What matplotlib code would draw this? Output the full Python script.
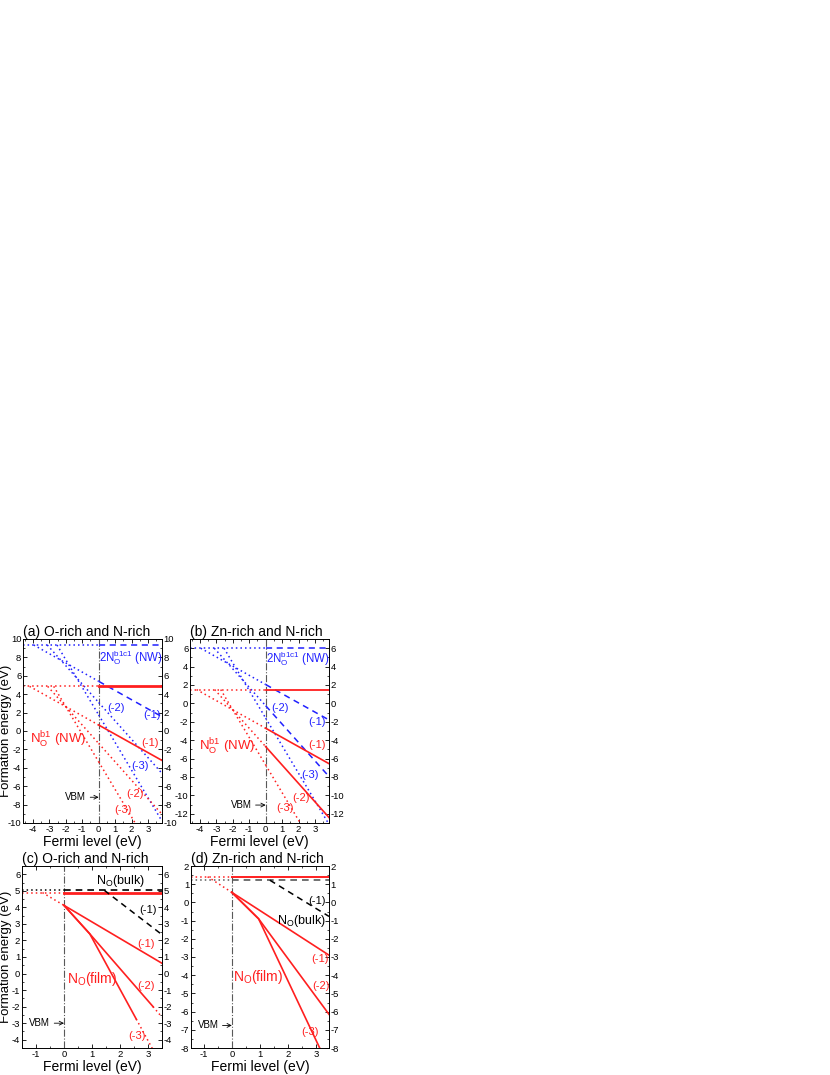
import numpy as np
import matplotlib
matplotlib.use("Agg")
import matplotlib.pyplot as plt
from matplotlib.ticker import MultipleLocator

plt.rcParams['font.family'] = ['Liberation Sans', 'DejaVu Sans']
plt.rcParams['mathtext.fontset'] = 'custom'
plt.rcParams['mathtext.rm'] = 'Liberation Sans'
plt.rcParams['mathtext.it'] = 'Liberation Sans:italic'
plt.rcParams['axes.unicode_minus'] = False

RED = '#ff1f1f'
BLUE = '#2020ff'

# ---- nanowire panels (a), (b): formation energy at E_F = 0 for q = 0, -1, -2, -3
charges = [0, -1, -2, -3]
a_blue = [9.35, 5.4, 3.1, 1.75]
a_red = [4.85, 0.65, -1.35, -3.35]
b_blue = [6.0, 2.05, -0.25, -1.6]
b_red = [1.5, -2.7, -4.7, -6.7]
# style of each line to the right of the VBM
a_blue_ls = ['--', '--', ':', ':']
a_red_ls = ['-', '-', ':', ':']
b_blue_ls = ['--', '--', '--', ':']
b_red_ls = ['-', '-', '-', ':']

# ---- film panels (c), (d)
c_neutral_film, c_neutral_bulk = 4.89, 5.03
d_neutral_film, d_neutral_bulk = 1.41, 1.22
c_m1_x, c_m1_e = [-0.77, 0.0, 3.5], [4.89, 4.12, 0.62]
c_m2_x, c_m2_e = [0.0, 0.92, 3.18], [4.12, 2.4, -2.0]
c_m2_tail_x, c_m2_tail_e = [3.18, 3.5], [-2.0, -2.64]
c_m3_x, c_m3_e = [0.0, 0.92, 2.58], [4.12, 2.4, -2.75]
c_m3_tail_x, c_m3_tail_e = [2.58, 3.15], [-2.75, -4.52]
c_bulk_m1_x, c_bulk_m1_e = [1.44, 3.5], [5.03, 2.35]

d_m1_x, d_m1_e = [-0.86, 0.0, 3.45], [1.41, 0.55, -2.9]
d_m2_x, d_m2_e = [0.0, 0.95, 3.45], [0.55, -0.9, -6.15]
d_m3_x, d_m3_e = [0.0, 0.95, 3.12], [0.55, -0.9, -8.0]
d_bulk_m1_x, d_bulk_m1_e = [1.35, 3.45], [1.22, -0.77]

W, H = 830, 1075
fig = plt.figure(figsize=(W / 100, H / 100), dpi=100)

DOT = (0, (1, 2))
DASH = (0, (4, 3))


def make_ax(l, r, t, b):
    return fig.add_axes([l / W, 1 - b / H, (r - l) / W, (b - t) / H])


def style_ax(ax, xlim, ylim, xmaj, xmin_, ymaj, ymin_):
    ax.set_xlim(*xlim)
    ax.set_ylim(*ylim)
    ax.xaxis.set_major_locator(MultipleLocator(xmaj))
    ax.xaxis.set_minor_locator(MultipleLocator(xmin_))
    ax.yaxis.set_major_locator(MultipleLocator(ymaj))
    ax.yaxis.set_minor_locator(MultipleLocator(ymin_))
    ax.tick_params(which='both', direction='in', top=True, right=True,
                   labelright=True, labelsize=6.8, pad=1.2)
    ax.tick_params(which='major', length=3, width=0.6)
    ax.tick_params(which='minor', length=1.6, width=0.5)
    for s in ax.spines.values():
        s.set_linewidth(0.7)
    ax.axvline(0, color='0.35', lw=0.8, ls='-.')
    ax.set_xlabel('Fermi level (eV)', fontsize=10, labelpad=1)


def nw_lines(ax, levels, styles, color, xlim, thick):
    neutral = levels[0]
    for q, e0, ls in zip(charges, levels, styles):
        if q == 0:
            xs = xlim[0]
        else:
            xs = max(xlim[0], (neutral - e0) / q)
        xl = np.array([xs, 0.0])
        ax.plot(xl, e0 + q * xl, color=color, ls=DOT, lw=1.1)
        xr = np.array([0.0, xlim[1]])
        if ls == ':':
            ax.plot(xr, e0 + q * xr, color=color, ls=DOT, lw=1.1)
        elif ls == '--':
            ax.plot(xr, e0 + q * xr, color=color, ls=DASH, lw=1.1)
        else:
            ax.plot(xr, e0 + q * xr, color=color, ls='-',
                    lw=thick if q == 0 else 1.2)


def vbm(ax, x, y):
    ax.annotate('VBM', xy=(0, y), xytext=(x, y), fontsize=7, ha='center', va='center',
                arrowprops=dict(arrowstyle='->', lw=0.6, color='black', shrinkA=1, shrinkB=0))


# ---------------- (a)
xl_ab = (-4.6, 3.85)
ax_a = make_ax(23, 162, 639, 823)
style_ax(ax_a, xl_ab, (-10, 10), 1, 0.5, 2, 1)
nw_lines(ax_a, a_blue, a_blue_ls, BLUE, xl_ab, 1.2)
nw_lines(ax_a, a_red, a_red_ls, RED, xl_ab, 2.0)
ax_a.set_title('(a) O-rich and N-rich', loc='left', fontsize=10, pad=1)
ax_a.text(0.05, 8.0, r'2N$_{\rm O}^{\rm b1c1}$ (NW)', color=BLUE, fontsize=8.3, ha='left', va='center')
ax_a.text(-2.45, -1.0, r'N$_{\rm O}^{\rm b1}$ (NW)', color=RED, fontsize=9.5, ha='center', va='center')
for x, y, s, c in [(1.05, 2.45, '(-2)', BLUE), (3.25, 1.75, '(-1)', BLUE),
                   (2.5, -3.8, '(-3)', BLUE), (3.15, -1.35, '(-1)', RED),
                   (2.22, -6.8, '(-2)', RED), (1.5, -8.6, '(-3)', RED)]:
    ax_a.text(x, y, s, color=c, fontsize=8, ha='center', va='center')
vbm(ax_a, -1.4, -7.2)

# ---------------- (b)
ax_b = make_ax(190, 329, 639, 823)
style_ax(ax_b, xl_ab, (-13, 7), 1, 0.5, 2, 1)
nw_lines(ax_b, b_blue, b_blue_ls, BLUE, xl_ab, 1.2)
nw_lines(ax_b, b_red, b_red_ls, RED, xl_ab, 1.3)
ax_b.set_title('(b) Zn-rich and N-rich', loc='left', fontsize=10, pad=1)
ax_b.text(0.05, 4.9, r'2N$_{\rm O}^{\rm b1c1}$ (NW)', color=BLUE, fontsize=8.3, ha='left', va='center')
ax_b.text(-2.35, -4.7, r'N$_{\rm O}^{\rm b1}$ (NW)', color=RED, fontsize=9.5, ha='center', va='center')
for x, y, s, c in [(0.87, -0.45, '(-2)', BLUE), (3.1, -2.05, '(-1)', BLUE),
                   (2.7, -7.8, '(-3)', BLUE), (3.1, -4.5, '(-1)', RED),
                   (2.16, -10.25, '(-2)', RED), (1.2, -11.4, '(-3)', RED)]:
    ax_b.text(x, y, s, color=c, fontsize=8, ha='center', va='center')
vbm(ax_b, -1.5, -11.05)


def film(ax, xlim, nf, nb, m1, m2, m3, bulk, tails, bulk_color, thick):
    ax.plot([xlim[0], 0], [nf, nf], color=RED, ls=DOT, lw=1.1)
    ax.plot([xlim[0], 0], [nb, nb], color=bulk_color, ls=DOT, lw=1.1)
    ax.plot([0, xlim[1]], [nf, nf], color=RED, lw=thick)
    ax.plot([0, xlim[1]], [nb, nb], color=bulk_color, ls=DASH, lw=1.2)
    ax.plot(m1[0][:2], m1[1][:2], color=RED, ls=DOT, lw=1.1)
    ax.plot(m1[0][1:], m1[1][1:], color=RED, lw=1.2)
    ax.plot(m2[0], m2[1], color=RED, lw=1.2)
    ax.plot(m3[0], m3[1], color=RED, lw=1.2)
    for tx, te in tails:
        ax.plot(tx, te, color=RED, ls=DOT, lw=1.1)
    ax.plot(bulk[0], bulk[1], color='black', ls=DASH, lw=1.1)


# ---------------- (c)
xl_c = (-1.5, 3.5)
ax_c = make_ax(22, 162, 866, 1048)
style_ax(ax_c, xl_c, (-4.5, 6.5), 1, 0.5, 1, 0.5)
film(ax_c, xl_c, c_neutral_film, c_neutral_bulk, (c_m1_x, c_m1_e), (c_m2_x, c_m2_e),
     (c_m3_x, c_m3_e), (c_bulk_m1_x, c_bulk_m1_e),
     [(c_m2_tail_x, c_m2_tail_e), (c_m3_tail_x, c_m3_tail_e)], 'black', 2.0)
ax_c.set_title('(c) O-rich and N-rich', loc='left', fontsize=10, pad=1)
ax_c.text(2.0, 5.6, r'N$_{\rm O}$(bulk)', color='black', fontsize=9, ha='center', va='center')
ax_c.text(1.0, -0.35, r'N$_{\rm O}$(film)', color=RED, fontsize=10, ha='center', va='center')
ax_c.text(3.0, 3.82, '(-1)', color='black', fontsize=8, ha='center', va='center')
for x, y, s in [(2.92, 1.8, '(-1)'), (2.94, -0.77, '(-2)'), (2.62, -3.8, '(-3)')]:
    ax_c.text(x, y, s, color=RED, fontsize=8, ha='center', va='center')
vbm(ax_c, -0.87, -3.0)

# ---------------- (d)
xl_d = (-1.45, 3.45)
ax_d = make_ax(191, 329, 866, 1048)
style_ax(ax_d, xl_d, (-8, 2), 1, 0.5, 1, 0.5)
film(ax_d, xl_d, d_neutral_film, d_neutral_bulk, (d_m1_x, d_m1_e), (d_m2_x, d_m2_e),
     (d_m3_x, d_m3_e), (d_bulk_m1_x, d_bulk_m1_e), [], '0.35', 1.4)
ax_d.set_title('(d) Zn-rich and N-rich', loc='left', fontsize=10, pad=1)
ax_d.text(2.47, -1.0, r'N$_{\rm O}$(bulk)', color='black', fontsize=9, ha='center', va='center')
ax_d.text(0.93, -4.1, r'N$_{\rm O}$(film)', color=RED, fontsize=10, ha='center', va='center')
ax_d.text(3.04, 0.09, '(-1)', color='black', fontsize=8, ha='center', va='center')
for x, y, s in [(3.12, -3.1, '(-1)'), (3.18, -4.6, '(-2)'), (2.76, -7.1, '(-3)')]:
    ax_d.text(x, y, s, color=RED, fontsize=8, ha='center', va='center')
vbm(ax_d, -0.85, -6.76)

# y labels
for top, bot in [(639, 823), (866, 1048)]:
    fig.text(0.0, 1 - (top + bot) / 2 / H, 'Formation energy (eV)', rotation=90,
             fontsize=9.5, ha='left', va='center')

fig.savefig('out.png', dpi=100)
